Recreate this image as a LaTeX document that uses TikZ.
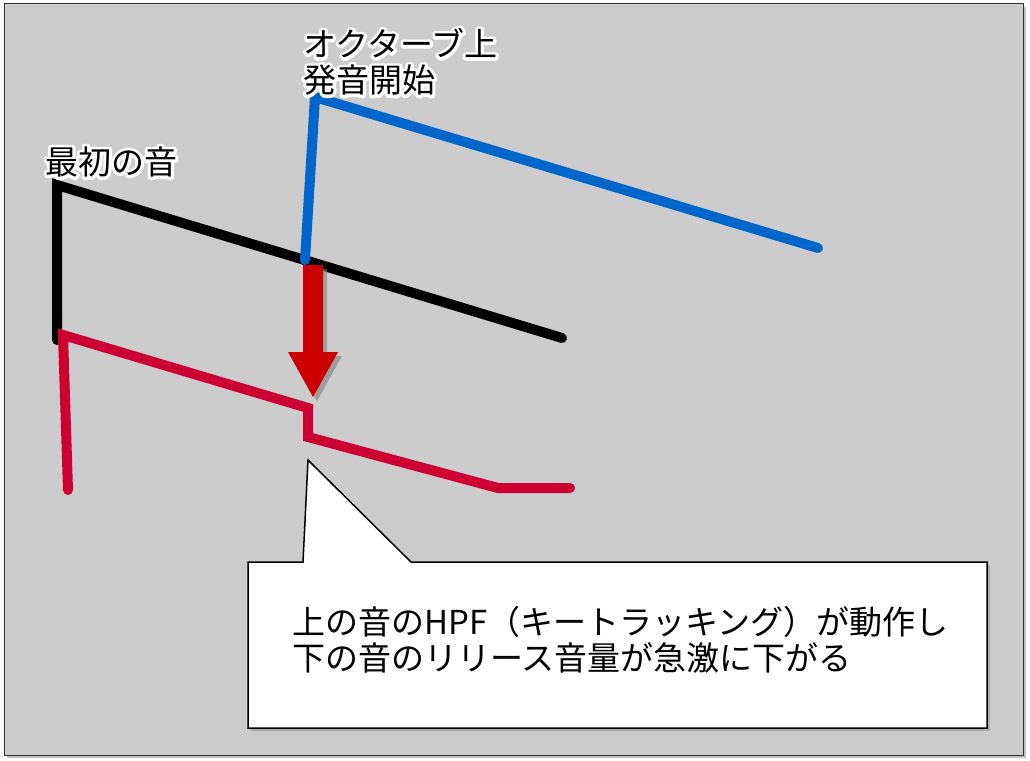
\documentclass[tikz,border=0pt]{standalone}
\usepackage{fontspec}
\setmainfont{Noto Sans CJK JP}
\usetikzlibrary{shadows}
\definecolor{panelgray}{HTML}{CCCCCC}
\definecolor{octblue}{HTML}{0066CC}
\definecolor{relred}{HTML}{CC0033}
\definecolor{dropred}{HTML}{CC0000}
% white outline round a label
\newcommand\halotext[1]{\leavevmode\rlap{\special{pdf:literal direct 1 Tr 6 w 1 j 1 1 1 RG}#1\special{pdf:literal direct 0 Tr}}#1}
\tikzset{
  env/.style={line width=10pt,line cap=round},
  halo/.style={anchor=west,inner sep=0pt,align=left,font=\fontsize{33pt}{36pt}\selectfont}
}
\begin{document}
\begin{tikzpicture}[x=1pt,y=-1pt]
\useasboundingbox (0,0) rectangle (1030,760);
\fill[white] (0,0) rectangle (1030,760);

% panel
\fill[panelgray,draw=black!80,line width=1pt,drop shadow={shadow xshift=3pt,shadow yshift=-3pt,opacity=.5}] (4,4) rectangle (1023,755);

% first note
\draw[env,black] (57,340) -- (57,185) -- (562,338);
\node[halo] (first) at (45,162) {\halotext{最初の音}};

% octave up
\draw[env,octblue] (305,260) -- (315,97) -- (818,248);
\node[halo] (octave) at (303,62) {\halotext{オクターブ上}\\\halotext{発音開始}};

% release of the lower note
\draw[env,relred] (68,490) -- (63,335) -- (308,408) -- (308,437) -- (498,488) -- (570,488);

% drop arrow
\fill[dropred,drop shadow={shadow xshift=4pt,shadow yshift=-4pt,opacity=.6}]
  (303,265) -- (323,265) -- (323,352) -- (338,352) -- (313,397) -- (288,352) -- (303,352) -- cycle;

% callout
\filldraw[fill=white,draw=black,line width=1.5pt,line join=miter,drop shadow={shadow xshift=3pt,shadow yshift=-3pt,opacity=.4}]
  (248,562) -- (303,562) -- (308,460) -- (411,562) -- (987,562) -- (987,728) -- (248,728) -- cycle;
\node[halo] (note) at (292,640) {上の音のHPF（キートラッキング）が動作し\\下の音のリリース音量が急激に下がる};

\end{tikzpicture}
\end{document}
